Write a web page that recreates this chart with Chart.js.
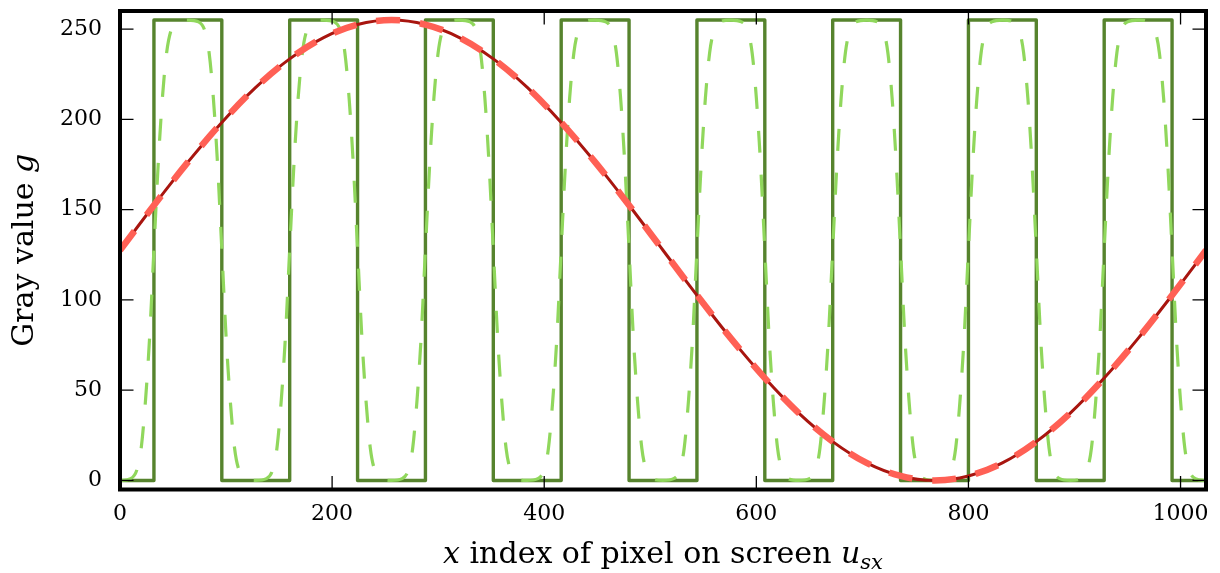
<!DOCTYPE html>
<html><head><meta charset="utf-8">
<script src="https://cdn.jsdelivr.net/npm/chart.js@4/dist/chart.umd.min.js"></script>
<style>html,body{margin:0;padding:0;background:#fff;overflow:hidden}canvas{display:block}</style>
</head><body>
<canvas id="c" width="1220" height="573"></canvas>
<script>
// ---- data ----
const sineX = [0,32,64,96,128,160,192,224,256,288,320,352,384,416,448,480,512,544,576,608,640,672,704,736,768,800,832,864,896,928,960,992,1024];
const sineY = [127.5,152.4,176.3,198.3,217.7,233.5,245.3,252.5,255,252.5,245.3,233.5,217.7,198.3,176.3,152.4,127.5,102.6,78.7,56.7,37.3,21.5,9.7,2.5,0,2.5,9.7,21.5,37.3,56.7,78.7,102.6,127.5];

const squareX = [0,32,32,96,96,160,160,224,224,288,288,352,352,416,416,480,480,544,544,608,608,672,672,736,736,800,800,864,864,928,928,992,992,1024];
const squareY = [0,0,255,255,0,0,255,255,0,0,255,255,0,0,255,255,0,0,255,255,0,0,255,255,0,0,255,255,0,0,255,255,0,0];

const smoothX = [
  0,10,16,20,24,28,32,36,40,44,48,54,64,74,80,84,88,92,96,100,104,108,112,118,
  128,138,144,148,152,156,160,164,168,172,176,182,192,202,208,212,216,220,224,228,232,236,240,246,
  256,266,272,276,280,284,288,292,296,300,304,310,320,330,336,340,344,348,352,356,360,364,368,374,
  384,394,400,404,408,412,416,420,424,428,432,438,448,458,464,468,472,476,480,484,488,492,496,502,
  512,522,528,532,536,540,544,548,552,556,560,566,576,586,592,596,600,604,608,612,616,620,624,630,
  640,650,656,660,664,668,672,676,680,684,688,694,704,714,720,724,728,732,736,740,744,748,752,758,
  768,778,784,788,792,796,800,804,808,812,816,822,832,842,848,852,856,860,864,868,872,876,880,886,
  896,906,912,916,920,924,928,932,936,940,944,950,960,970,976,980,984,988,992,996,1000,1004,1008,1014,
  1024];
const smoothY = [
  0,1,6,18,44,80,128,175,212,237,249,254,255,254,249,237,212,175,128,80,44,18,6,1,
  0,1,6,18,44,80,128,175,212,237,249,254,255,254,249,237,212,175,128,80,44,18,6,1,
  0,1,6,18,44,80,128,175,212,237,249,254,255,254,249,237,212,175,128,80,44,18,6,1,
  0,1,6,18,44,80,128,175,212,237,249,254,255,254,249,237,212,175,128,80,44,18,6,1,
  0,1,6,18,44,80,128,175,212,237,249,254,255,254,249,237,212,175,128,80,44,18,6,1,
  0,1,6,18,44,80,128,175,212,237,249,254,255,254,249,237,212,175,128,80,44,18,6,1,
  0,1,6,18,44,80,128,175,212,237,249,254,255,254,249,237,212,175,128,80,44,18,6,1,
  0,1,6,18,44,80,128,175,212,237,249,254,255,254,249,237,212,175,128,80,44,18,6,1,
  0];

const xTicks = [0,200,400,600,800,1000];
const yTicks = [0,50,100,150,200,250];
const xRange = [0,1024];
const yRange = [-5,260];

const FONT = '"DejaVu Serif", "Liberation Serif", serif';

function pts(xs, ys){ return xs.map((v,i)=>({x:v, y:ys[i]})); }

const decor = {
  id:'decor',
  afterDatasetsDraw(chart){
    const {ctx, chartArea:a, scales:{x, y}} = chart;
    ctx.save();
    ctx.strokeStyle = '#000';
    ctx.lineWidth = 1.3;
    const tl = 13.5;
    ctx.beginPath();
    xTicks.forEach(v=>{ const p = x.getPixelForValue(v);
      ctx.moveTo(p, a.bottom); ctx.lineTo(p, a.bottom - tl);
      ctx.moveTo(p, a.top); ctx.lineTo(p, a.top + tl); });
    yTicks.forEach(v=>{ const p = y.getPixelForValue(v);
      ctx.moveTo(a.left, p); ctx.lineTo(a.left + tl, p);
      ctx.moveTo(a.right, p); ctx.lineTo(a.right - tl, p); });
    ctx.stroke();
    ctx.lineWidth = 4;
    ctx.lineJoin = 'miter';
    ctx.strokeRect(a.left, a.top, a.right - a.left, a.bottom - a.top);
    ctx.restore();
  },
  afterDraw(chart){
    const {ctx, chartArea:a} = chart;
    ctx.save();
    ctx.fillStyle = '#000';
    ctx.textBaseline = 'alphabetic';
    ctx.textAlign = 'left';
    // x title
    const parts = [
      ['x','italic 30px '+FONT,0],
      [' index of pixel on screen ','30px '+FONT,0],
      ['u','italic 30px '+FONT,0],
      ['sx','italic 21px '+FONT,6]
    ];
    let w = 0;
    parts.forEach(p=>{ ctx.font = p[1]; w += ctx.measureText(p[0]).width; });
    let cx = (a.left + a.right)/2 - w/2;
    parts.forEach(p=>{ ctx.font = p[1]; ctx.fillText(p[0], cx, 563 + p[2]); cx += ctx.measureText(p[0]).width; });
    // y title
    const yp = [['Gray value ','30px '+FONT],['g','italic 30px '+FONT]];
    ctx.translate(33, (a.top + a.bottom)/2);
    ctx.rotate(-Math.PI/2);
    w = 0;
    yp.forEach(p=>{ ctx.font = p[1]; w += ctx.measureText(p[0]).width; });
    cx = -w/2;
    yp.forEach(p=>{ ctx.font = p[1]; ctx.fillText(p[0], cx, 0); cx += ctx.measureText(p[0]).width; });
    ctx.restore();
  }
};

new Chart(document.getElementById('c'), {
  type:'line',
  data:{ datasets:[
    { data: pts(sineX, sineY), borderColor:'#ff6055', borderWidth:6.5, borderDash:[24,20], borderCapStyle:'butt',
      cubicInterpolationMode:'monotone', pointRadius:0, fill:false },
    { data: pts(sineX, sineY), borderColor:'#a8150f', borderWidth:3, cubicInterpolationMode:'monotone',
      pointRadius:0, fill:false },
    { data: pts(smoothX, smoothY), borderColor:'#90d75c', borderWidth:3.2, borderDash:[22,22], borderCapStyle:'butt',
      cubicInterpolationMode:'monotone', pointRadius:0, fill:false },
    { data: pts(squareX, squareY), borderColor:'#56832d', borderWidth:3.4, tension:0, borderJoinStyle:'round',
      borderCapStyle:'round', pointRadius:0, fill:false }
  ]},
  options:{
    responsive:false, animation:false, devicePixelRatio:1,
    layout:{ padding:{ top:11, right:14, left:0, bottom:0 } },
    plugins:{ legend:{display:false}, tooltip:{enabled:false} },
    scales:{
      x:{ type:'linear', min:xRange[0], max:xRange[1],
        afterBuildTicks:s=>{ s.ticks = xTicks.map(v=>({value:v})); },
        afterFit:s=>{ s.height = 83.5; s.paddingLeft = 0; s.paddingRight = 0; },
        grid:{display:false, drawTicks:false}, border:{display:false},
        ticks:{ color:'#000', font:{family:FONT, size:22}, padding:12, maxRotation:0, autoSkip:false,
          callback:v=>String(v) } },
      y:{ type:'linear', min:yRange[0], max:yRange[1],
        afterBuildTicks:s=>{ s.ticks = yTicks.map(v=>({value:v})); },
        afterFit:s=>{ s.width = 120; s.paddingTop = 0; s.paddingBottom = 0; },
        grid:{display:false, drawTicks:false}, border:{display:false},
        ticks:{ color:'#000', font:{family:FONT, size:22}, padding:18, autoSkip:false,
          callback:v=>String(v) } }
    }
  },
  plugins:[decor]
});
</script>
</body></html>
